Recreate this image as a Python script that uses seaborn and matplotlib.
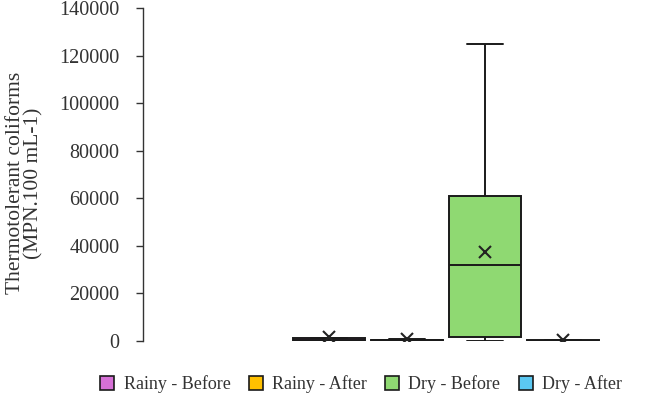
import pandas as pd
import numpy as np
import matplotlib
matplotlib.use('Agg')
import matplotlib.pyplot as plt
import seaborn as sns
from matplotlib.lines import Line2D

GROUPS = ['Rainy - Before', 'Rainy - After', 'Dry - Before', 'Dry - After']
COLORS = ['#D670D6', '#FFC000', '#8FD972', '#5BC8F2']

# raw samples estimated so that quartiles / whiskers / means match the picture
rainy_before = [0, 100, 300, 600, 900, 1300, 9500]
rainy_after = [0, 50, 150, 300, 500, 700, 3300]
dry_before = [0, 200, 1500, 10000, 32000, 35000, 61000, 73000, 125000]
dry_after = [0, 20, 60, 120, 200, 300, 1400]

Y_TICKS = list(range(0, 140001, 20000))

sns.set_style('white')
plt.rcParams['font.family'] = ['Liberation Serif', 'DejaVu Serif']

df = pd.concat([
    pd.DataFrame({'group': g, 'value': v})
    for g, v in zip(GROUPS, [rainy_before, rainy_after, dry_before, dry_after])
], ignore_index=True)

fig = plt.figure(figsize=(6.64, 4.03), dpi=100)
ax = fig.add_axes([143 / 664, 1 - 341 / 403, (641 - 143) / 664, 333 / 403])

palette = dict(zip(GROUPS, COLORS))
sns.boxplot(data=df, x='group', y='value', hue='group', order=GROUPS,
            palette=palette, saturation=1, width=0.917, showfliers=False,
            showmeans=True, linecolor='#1a1a1a', linewidth=1.4, legend=False, ax=ax,
            meanprops=dict(marker='x', markersize=9, markeredgecolor='#222222',
                           markeredgewidth=1.5))

ax.set_xlim(-2.376, 3.994)
ax.set_ylim(0, 140000)
ax.set_yticks(Y_TICKS)
ax.set_yticklabels([str(t) for t in Y_TICKS], fontsize=14.5, color='#333333')
ax.set_xticks([])
ax.set_xlabel('')
ax.set_ylabel('Thermotolerant coliforms\n(MPN.100 mL-1)', fontsize=15.5,
              color='#333333', linespacing=1.0)
ax.yaxis.set_label_coords(-0.199, 0.474)
ax.tick_params(axis='y', length=5, width=1, color='#333333', left=True,
               direction='out', pad=12)
for side in ['top', 'right', 'bottom']:
    ax.spines[side].set_visible(False)
ax.spines['left'].set_color('#333333')
ax.spines['left'].set_linewidth(1)

handles = [Line2D([], [], marker='s', linestyle='none', markersize=9.5,
                  markerfacecolor=c, markeredgecolor='#1a1a1a', markeredgewidth=1.2)
           for c in COLORS]
fig.legend(handles, GROUPS, loc='center', bbox_to_anchor=(361 / 664, 1 - 384 / 403),
           ncol=4, frameon=False, fontsize=13, handlelength=0.8, handletextpad=0.5,
           columnspacing=1.0, labelcolor='#333333')

fig.savefig('out.png', dpi=100)
